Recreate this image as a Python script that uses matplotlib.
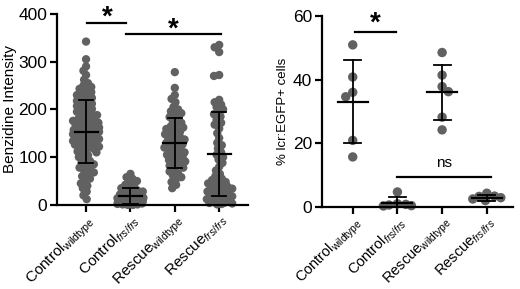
import numpy as np
import matplotlib
matplotlib.use('Agg')
import matplotlib.pyplot as plt

plt.rcParams['font.family'] = ['Liberation Sans', 'DejaVu Sans']
plt.rcParams['mathtext.fontset'] = 'custom'
plt.rcParams['mathtext.rm'] = 'Liberation Sans'
plt.rcParams['mathtext.it'] = 'Liberation Sans:italic'

groups = [r'Control$_{\mathrm{wildtype}}$', r'Control$_{frs/frs}$',
          r'Rescue$_{\mathrm{wildtype}}$', r'Rescue$_{frs/frs}$']

# left panel: benzidine intensity per embryo
control_wt = [342, 305, 290, 281, 272, 262, 255, 250, 247, 243, 240, 236, 233, 230,
              227, 224, 221, 218, 215, 212, 210, 207, 204, 201, 198, 195, 192, 190,
              188, 185, 182, 180, 178, 176, 175, 172, 170, 168, 167, 165, 163, 162,
              160, 158, 157, 156, 154, 153, 152, 150, 149, 148, 146, 145, 144, 142,
              141, 140, 138, 137, 136, 134, 133, 132, 130, 128, 126, 124, 122, 120,
              118, 115, 112, 110, 107, 104, 100, 96, 92, 88, 85, 82, 78, 75, 72, 68,
              64, 60, 55, 50, 45, 40, 35, 28, 20, 12]
control_frs = [65, 58, 55, 50, 45, 42, 38, 35, 32, 30, 28, 26, 24, 22, 20, 18, 17, 16,
               15, 14, 13, 12, 11, 10, 9, 8, 8, 7, 6, 6, 5, 5, 4, 4, 3, 3, 2, 2, 1, 1,
               0, 0]
rescue_wt = [278, 245, 230, 222, 215, 205, 200, 196, 192, 188, 184, 180, 176, 172,
             168, 165, 162, 159, 156, 153, 150, 148, 145, 142, 140, 137, 135, 132,
             130, 127, 125, 122, 120, 117, 115, 112, 110, 107, 105, 102, 100, 97, 94,
             91, 88, 85, 82, 78, 74, 70, 66, 62, 58, 54, 48, 42, 35]
rescue_frs = [335, 330, 320, 272, 270, 220, 215, 210, 205, 200, 195, 190, 185, 178,
              172, 168, 160, 150, 140, 130, 125, 118, 110, 105, 100, 95, 88, 80, 72,
              65, 60, 55, 52, 50, 48, 45, 42, 40, 38, 36, 34, 32, 30, 28, 26, 24, 22,
              20, 18, 16, 14, 12, 10, 8, 6, 5, 4, 3, 2, 1]
benz_mean = [153, 19, 130, 106]
benz_sd = [66, 17, 52, 88]

# right panel: % lcr:EGFP+ cells
egfp_control_wt = [50.9, 40.8, 36.0, 34.6, 20.9, 15.7]
egfp_control_frs = [4.7, 1.0, 0.6, 0.4, 0.8, 0.3]
egfp_rescue_wt = [48.5, 41.4, 37.8, 36.2, 28.2, 24.2]
egfp_rescue_frs = [4.3, 3.4, 2.9, 2.5, 2.0, 3.3]
egfp_mean = [33.1, 1.3, 36.0, 2.8]
egfp_sd = [12.9, 1.7, 8.6, 0.8]

dot_color = '#616161'


def swarm(ax, vals, center, d, maxw):
    '''
    bounded beeswarm in pixel space, points overlap once the band is full
    '''
    vals = np.asarray(vals, dtype=float)
    pts = ax.transData.transform(np.column_stack([np.full(len(vals), center), vals]))
    ys = pts[:, 1]
    cx = pts[0, 0]
    grid = np.linspace(-maxw, maxw, 41)
    grid = grid[np.argsort(np.abs(grid), kind='stable')]
    xs = np.zeros(len(vals))
    placed = []
    for i in np.argsort(-ys):
        y = ys[i]
        near = np.array([(px, py) for px, py in placed if abs(py - y) < d])
        if len(near) == 0:
            xs[i] = 0.0
            placed.append((0.0, y))
            continue
        dist = np.array([np.min(np.hypot(g - near[:, 0], y - near[:, 1])) for g in grid])
        ok = np.where(dist >= d)[0]
        c = grid[ok[0]] if len(ok) else grid[np.argmax(dist)]
        xs[i] = c
        placed.append((c, y))
    back = ax.transData.inverted().transform(np.column_stack([cx + xs, ys]))
    return back[:, 0]


def style_axis(ax, xfs):
    for s in ['top', 'right']:
        ax.spines[s].set_visible(False)
    for s in ['left', 'bottom']:
        ax.spines[s].set_linewidth(1.6)
    ax.tick_params(width=1.6, length=5, labelsize=12.5, pad=2)
    ax.tick_params(axis='x', pad=0)
    ax.set_xticks(range(4))
    ax.set_xticklabels(groups, rotation=45, ha='right', va='top',
                       rotation_mode='anchor', fontsize=xfs)


def draw_panel(ax, data, means, sds, mw, cw, d, maxw, size):
    for i, vals in enumerate(data):
        xs = swarm(ax, vals, i, d, maxw)
        ax.scatter(xs, vals, s=size, color=dot_color, edgecolors='none', zorder=2,
                   clip_on=False)
        ax.plot([i, i], [means[i] - sds[i], means[i] + sds[i]], color='black',
                lw=1.3, zorder=3)
        ax.plot([i - mw / 2, i + mw / 2], [means[i], means[i]], color='black',
                lw=1.6, zorder=3)
        for v in [means[i] - sds[i], means[i] + sds[i]]:
            ax.plot([i - cw / 2, i + cw / 2], [v, v], color='black', lw=1.3,
                    zorder=3)


fig = plt.figure(figsize=(5.2, 2.89), dpi=100)

ax1 = fig.add_axes([0.110, 0.291, 0.367, 0.661])
ax1.set_xlim(-0.65, 3.65)
ax1.set_ylim(0, 400)
ax1.set_yticks([0, 100, 200, 300, 400])
style_axis(ax1, 11)
ax1.set_ylabel('Benzidine Intensity', fontsize=11, labelpad=1)
draw_panel(ax1, [control_wt, control_frs, rescue_wt, rescue_frs],
           benz_mean, benz_sd, 0.52, 0.32, 5.0, 13, 36)
ax1.plot([0.02, 0.9], [381, 381], color='black', lw=1.6, clip_on=False)
ax1.plot([0.9, 3.05], [358, 358], color='black', lw=1.6, clip_on=False)
ax1.text(0.47, 392, '*', ha='center', va='center', fontsize=20, fontweight='bold')
ax1.text(1.96, 368, '*', ha='center', va='center', fontsize=20, fontweight='bold')

ax2 = fig.add_axes([0.619, 0.284, 0.367, 0.661])
ax2.set_xlim(-0.69, 3.58)
ax2.set_ylim(0, 60)
ax2.set_yticks([0, 20, 40, 60])
style_axis(ax2, 10.5)
ax2.set_ylabel('% lcr:EGFP+ cells', fontsize=9.5, labelpad=3)
draw_panel(ax2, [egfp_control_wt, egfp_control_frs, egfp_rescue_wt, egfp_rescue_frs],
           egfp_mean, egfp_sd, 0.67, 0.38, 8.0, 14, 46)
ax2.plot([0.05, 0.97], [55, 55], color='black', lw=1.6, clip_on=False)
ax2.plot([1.0, 3.1], [9.4, 9.4], color='black', lw=1.6, clip_on=False)
ax2.text(0.5, 57.5, '*', ha='center', va='center', fontsize=20, fontweight='bold')
ax2.text(2.05, 13.8, 'ns', ha='center', va='center', fontsize=11)

fig.savefig('out.png', dpi=100)
